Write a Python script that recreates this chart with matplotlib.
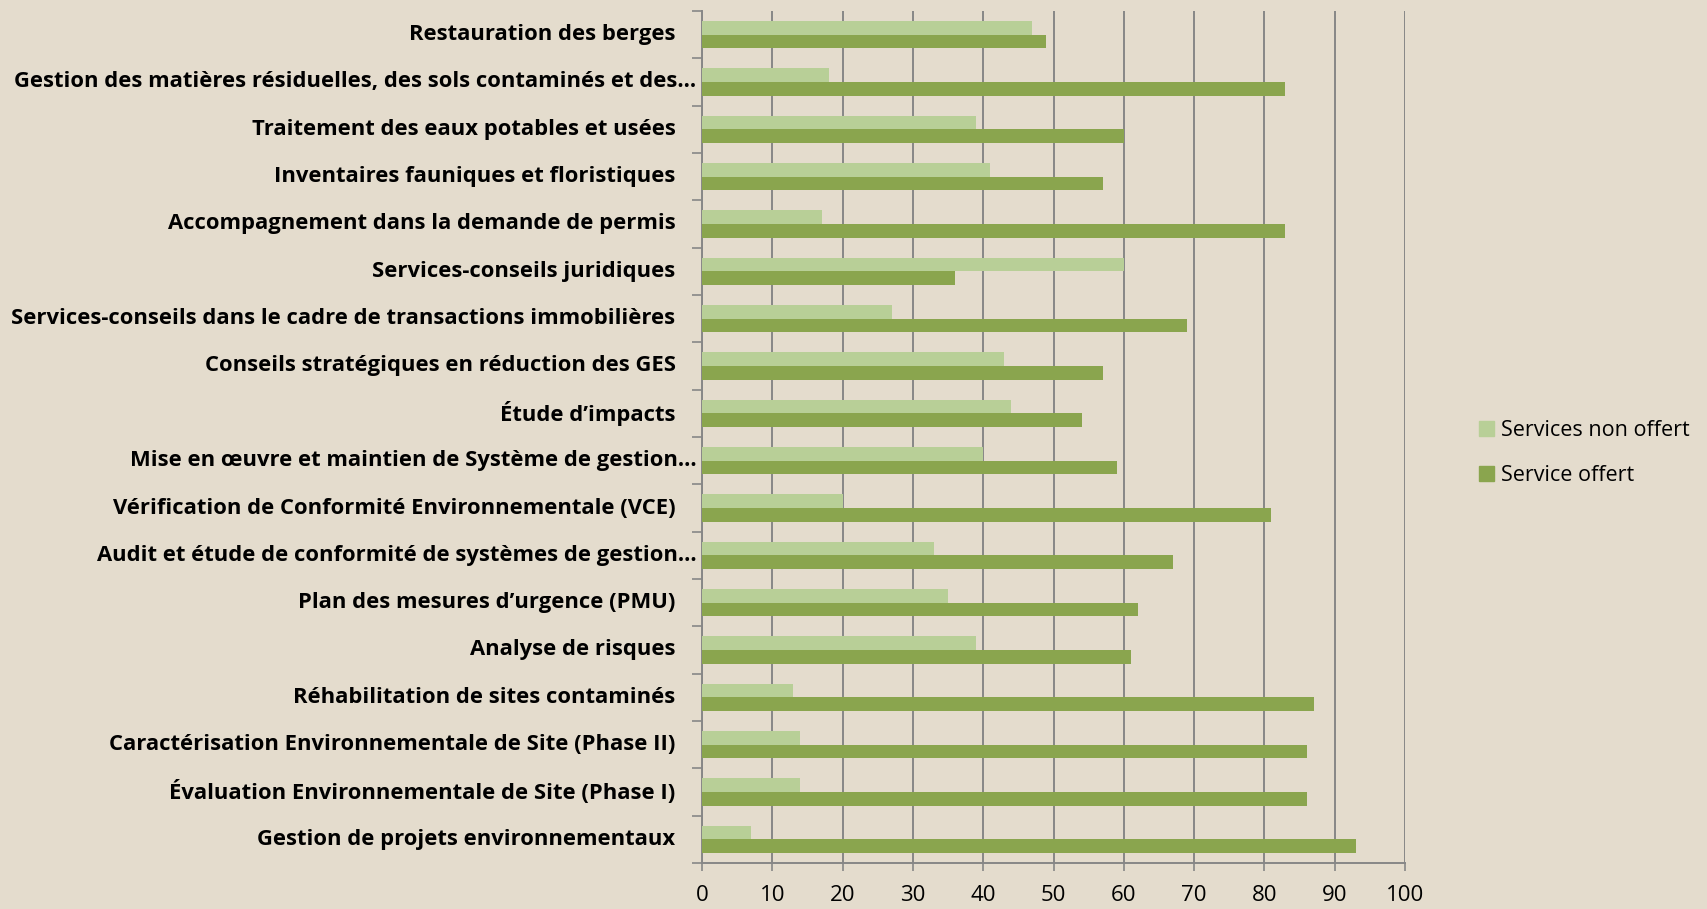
import numpy as np
import matplotlib.pyplot as plt
from matplotlib.patches import Patch

# categories listed top to bottom as in the chart
categories = [
    "Restauration des berges",
    "Gestion des matières résiduelles, des sols contaminés et des…",
    "Traitement des eaux potables et usées",
    "Inventaires fauniques et floristiques",
    "Accompagnement dans la demande de permis",
    "Services-conseils juridiques",
    "Services-conseils dans le cadre de transactions immobilières",
    "Conseils stratégiques en réduction des GES",
    "Étude d’impacts",
    "Mise en œuvre et maintien de Système de gestion…",
    "Vérification de Conformité Environnementale (VCE)",
    "Audit et étude de conformité de systèmes de gestion…",
    "Plan des mesures d’urgence (PMU)",
    "Analyse de risques",
    "Réhabilitation de sites contaminés",
    "Caractérisation Environnementale de Site (Phase II)",
    "Évaluation Environnementale de Site (Phase I)",
    "Gestion de projets environnementaux",
]
non_offert = [47, 18, 39, 41, 17, 60, 27, 43, 44, 40, 20, 33, 35, 39, 13, 14, 14, 7]
offert = [49, 83, 60, 57, 83, 36, 69, 57, 54, 59, 81, 67, 62, 61, 87, 86, 86, 93]
xticks = list(range(0, 101, 10))

bg = "#e4dccd"
light = "#b8cf97"
dark = "#8aa54e"
grid = "#878787"

plt.rcParams["font.family"] = ["Open Sans", "DejaVu Sans"]

fig = plt.figure(figsize=(17.07, 9.09), dpi=100, facecolor=bg)
ax = fig.add_axes([702 / 1707, 1 - 863 / 909, (1405 - 702) / 1707, (863 - 11) / 909])
ax.set_facecolor(bg)

n = len(categories)
y = np.arange(n)[::-1]
h = 0.29
ax.barh(y + h / 2, non_offert, height=h, color=light, zorder=3)
ax.barh(y - h / 2, offert, height=h, color=dark, zorder=3)

ax.set_xlim(0, 100)
ax.set_ylim(-0.5, n - 0.5)
ax.set_xticks(xticks)
ax.set_xticklabels([str(t) for t in xticks], fontsize=16)
ax.xaxis.grid(True, color=grid, linewidth=1.4, zorder=0)
ax.tick_params(axis="x", length=6, width=1.2, color=grid, pad=10)

# category labels; truncated ones sit closer to the axis, as in the original
ax.set_yticks([])
for yi, lab in zip(y, categories):
    off = -4 if lab.endswith("…") else -19
    ax.annotate(lab, xy=(0, yi), xycoords=("axes fraction", "data"),
                xytext=(off, 0), textcoords="offset points",
                ha="right", va="center", fontsize=15.8, fontweight="bold")
ax.set_yticks(np.arange(-0.5, n, 1.0), minor=True)
ax.tick_params(axis="y", which="minor", length=7, width=1.2, color=grid)

for s in ["top", "right"]:
    ax.spines[s].set_visible(False)
for s in ["left", "bottom"]:
    ax.spines[s].set_color(grid)
    ax.spines[s].set_linewidth(1.4)

handles = [Patch(color=light, label="Services non offert"),
           Patch(color=dark, label="Service offert")]
fig.legend(handles=handles, loc="center left",
           bbox_to_anchor=(1460 / 1707, 1 - 453 / 909), frameon=False,
           fontsize=15.5, handlelength=0.7, handleheight=0.7,
           handletextpad=0.3, labelspacing=1.1)

fig.savefig("out.png", dpi=100, facecolor=bg)
